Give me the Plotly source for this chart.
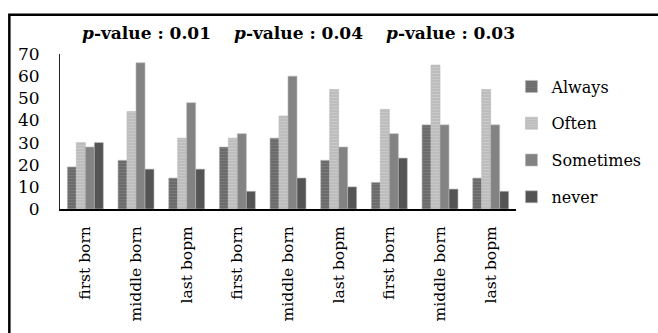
import plotly.graph_objects as go

# Birth-order groups (three comparisons, three categories each)
categories = ["first born", "middle born", "last bopm",
              "first born", "middle born", "last bopm",
              "first born", "middle born", "last bopm"]

always = [19, 22, 14, 28, 32, 22, 12, 38, 14]
often = [30, 44, 32, 32, 42, 54, 45, 65, 54]
sometimes = [28, 66, 48, 34, 60, 28, 34, 38, 38]
never = [30, 18, 18, 8, 14, 10, 23, 9, 8]

p_values = ["0.01", "0.04", "0.03"]
p_positions = [1, 4, 7]

y_ticks = [0, 10, 20, 30, 40, 50, 60, 70]

FONT = "'DejaVu Serif', 'Liberation Serif', serif"
x_idx = list(range(len(categories)))

series = [
    ("Always", always, "#6b6b6b", dict(shape="-", fgcolor="#888888", bgcolor="#6b6b6b", size=3, solidity=0.35)),
    ("Often", often, "#c3c3c3", dict(shape="-", fgcolor="#d6d6d6", bgcolor="#bdbdbd", size=3, solidity=0.35)),
    ("Sometimes", sometimes, "#838383", None),
    ("never", never, "#545454", None),
]

fig = go.Figure()
for name, vals, color, pattern in series:
    marker = dict(color=color, line=dict(color="#b8b8b8", width=0.6))
    if pattern:
        marker["pattern"] = pattern
    fig.add_trace(go.Bar(x=x_idx, y=vals, name=name, marker=marker,
                         legendgroup=name))

for pv, xp in zip(p_values, p_positions):
    fig.add_annotation(x=xp + 0.2, y=1.0, xref="x", yref="paper",
                       yshift=9, text=f"<b><i>p</i>-value : {pv}</b>",
                       showarrow=False, yanchor="bottom",
                       font=dict(family=FONT, size=17, color="#000000"))

# Outer frame around the chart (open to the right and bottom edges)
fig.add_shape(type="rect", xref="paper", yref="paper",
              x0=-52 / 468, x1=1.6, y0=-1.5, y1=(216 - 13) / 162,
              line=dict(color="#000000", width=2.5), fillcolor="rgba(0,0,0,0)")

fig.update_layout(
    width=658, height=333,
    margin=dict(l=60, r=130, t=54, b=117),
    paper_bgcolor="white", plot_bgcolor="white",
    barmode="group", bargap=0.29, bargroupgap=0,
    font=dict(family=FONT, color="#000000"),
    showlegend=True,
    legend=dict(x=0.99, y=0.9, xanchor="left", yanchor="top",
                font=dict(family=FONT, size=16, color="#000000"),
                tracegroupgap=13, itemwidth=30, bgcolor="rgba(0,0,0,0)"),
)

fig.update_xaxes(
    tickmode="array", tickvals=x_idx, ticktext=categories,
    tickangle=-90, range=[-0.5, len(categories) - 0.5],
    showline=True, linecolor="#000000", linewidth=2,
    showgrid=False, zeroline=False,
    ticks="outside", ticklen=9, tickcolor="rgba(0,0,0,0)",
    tickfont=dict(family=FONT, size=15.5, color="#000000"),
)
fig.update_yaxes(
    range=[0, 70], tickvals=y_ticks,
    showline=True, linecolor="#222222", linewidth=1,
    showgrid=False, zeroline=False,
    ticks="outside", ticklen=16, tickcolor="rgba(0,0,0,0)",
    tickfont=dict(family=FONT, size=17, color="#000000"),
)

fig.write_html("out.html")
